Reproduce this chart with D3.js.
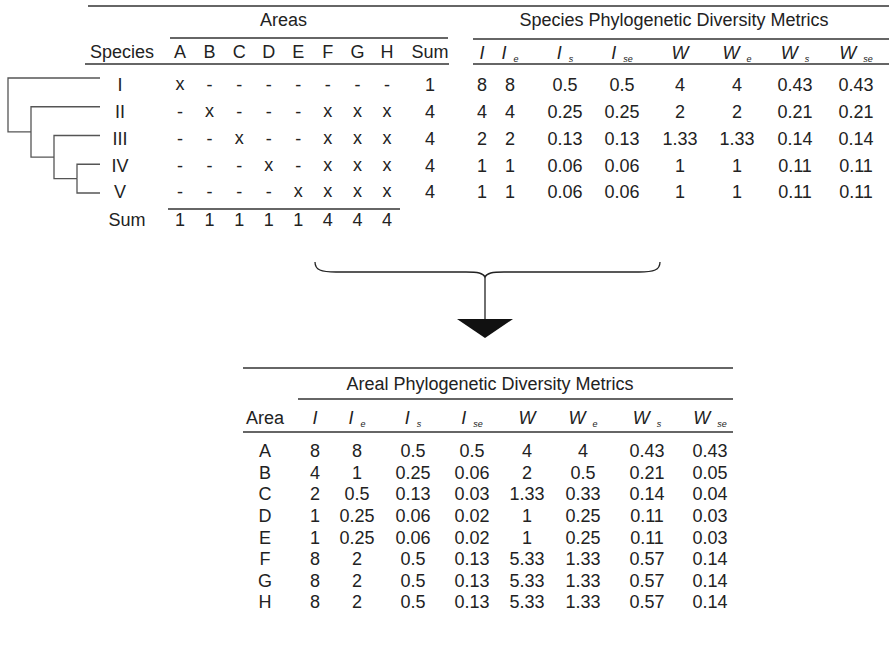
<!DOCTYPE html>
<html>
<head>
<meta charset="utf-8">
<title>Species and Areal Phylogenetic Diversity Metrics</title>
<script src="https://d3js.org/d3.v7.min.js"></script>
<style>
    body { margin: 0; background: #fff; }
    svg { display: block; font-family: "Liberation Sans", Arial, Helvetica, sans-serif; }
    text { fill: #222; font-size: 18px; }
    .rule { stroke: #333; stroke-width: 1.3px; }
    .branch { stroke: #555; stroke-width: 1.3px; fill: none; }
    .it { font-style: italic; }
    .sub { font-size: 9px; font-style: italic; }
</style>
</head>
<body>
<div id="chart"></div>
<script>
    const areas = ["A", "B", "C", "D", "E", "F", "G", "H"];
    const species = ["I", "II", "III", "IV", "V"];

    // 1 = species present in area
    const occurrence = [
        [1, 0, 0, 0, 0, 0, 0, 0],
        [0, 1, 0, 0, 0, 1, 1, 1],
        [0, 0, 1, 0, 0, 1, 1, 1],
        [0, 0, 0, 1, 0, 1, 1, 1],
        [0, 0, 0, 0, 1, 1, 1, 1]
    ];
    const speciesSum = [1, 4, 4, 4, 4];
    const areaSum = [1, 1, 1, 1, 1, 4, 4, 4];

    const metricBase = ["I", "I", "I", "I", "W", "W", "W", "W"];
    const metricSub = ["", "e", "s", "se", "", "e", "s", "se"];

    const speciesMetrics = [
        ["8", "8", "0.5", "0.5", "4", "4", "0.43", "0.43"],
        ["4", "4", "0.25", "0.25", "2", "2", "0.21", "0.21"],
        ["2", "2", "0.13", "0.13", "1.33", "1.33", "0.14", "0.14"],
        ["1", "1", "0.06", "0.06", "1", "1", "0.11", "0.11"],
        ["1", "1", "0.06", "0.06", "1", "1", "0.11", "0.11"]
    ];

    const arealMetrics = [
        ["8", "8", "0.5", "0.5", "4", "4", "0.43", "0.43"],
        ["4", "1", "0.25", "0.06", "2", "0.5", "0.21", "0.05"],
        ["2", "0.5", "0.13", "0.03", "1.33", "0.33", "0.14", "0.04"],
        ["1", "0.25", "0.06", "0.02", "1", "0.25", "0.11", "0.03"],
        ["1", "0.25", "0.06", "0.02", "1", "0.25", "0.11", "0.03"],
        ["8", "2", "0.5", "0.13", "5.33", "1.33", "0.57", "0.14"],
        ["8", "2", "0.5", "0.13", "5.33", "1.33", "0.57", "0.14"],
        ["8", "2", "0.5", "0.13", "5.33", "1.33", "0.57", "0.14"]
    ];

    // (I,(II,(III,(IV,V))))
    const tree = {
        children: [
            { name: "I" },
            { children: [
                { name: "II" },
                { children: [
                    { name: "III" },
                    { children: [{ name: "IV" }, { name: "V" }] }
                ] }
            ] }
        ]
    };

    const width = 889, height = 647;

    const svg = d3.select("#chart")
        .append("svg")
        .attr("width", width)
        .attr("height", height);

    function rule(x1, x2, y) {
        svg.append("line")
            .attr("class", "rule")
            .attr("x1", x1).attr("x2", x2)
            .attr("y1", y).attr("y2", y);
    }

    function label(x, y, t) {
        return svg.append("text")
            .attr("x", x).attr("y", y)
            .attr("dy", "0.35em")
            .attr("text-anchor", "middle")
            .text(t);
    }

    function metricHeader(x, y, i) {
        const t = svg.append("text")
            .attr("x", x).attr("y", y)
            .attr("dy", "0.35em")
            .attr("text-anchor", "middle");
        t.append("tspan").attr("class", "it").text(metricBase[i]);
        if (metricSub[i]) {
            t.append("tspan").attr("class", "sub")
                .attr("dx", 7).attr("dy", 3)
                .text(metricSub[i]);
        }
    }

    // ---------- top left: species x areas ----------
    const areaX = d3.scalePoint().domain(areas).range([180, 387]);
    const rowY = d3.scalePoint().domain(species).range([85, 192]);
    const sumX = 430;
    const speciesX = 120;

    rule(88, width, 6);
    label(d3.mean(areaX.range()), 20, "Areas");
    rule(170, 448, 38);

    label(122, 52, "Species");
    areas.forEach(a => label(areaX(a), 52, a));
    label(sumX, 52, "Sum");
    rule(85, 449, 64);

    species.forEach((s, i) => {
        label(speciesX, rowY(s), s);
        areas.forEach((a, j) => {
            label(areaX(a), rowY(s) - (occurrence[i][j] ? 1 : 0), occurrence[i][j] ? "x" : "-");
        });
        label(sumX, rowY(s), speciesSum[i]);
    });

    rule(168, 400, 209);
    label(127, 220, "Sum");
    areas.forEach((a, j) => label(areaX(a), 220, areaSum[j]));

    // ---------- tree ----------
    const root = d3.hierarchy(tree);
    const leafY = d3.scalePoint().domain(species).range([78, 193]);
    const depthX = d3.scaleLinear().domain([0, root.height]).range([8, 100]);
    root.eachAfter(n => {
        n.ty = n.children ? d3.mean(n.children, c => c.ty) : leafY(n.data.name);
        n.tx = depthX(root.height - n.height);
    });
    svg.append("g")
        .selectAll("path")
        .data(root.links())
        .enter().append("path")
        .attr("class", "branch")
        .attr("d", d => `M${d.source.tx},${d.source.ty}V${d.target.ty}H${d.target.tx}`);

    // ---------- top right: species metrics ----------
    const spMetricX = d3.scaleOrdinal()
        .domain(d3.range(8))
        .range([482, 510, 565, 622, 680, 737, 795, 856]);

    label(674, 20, "Species Phylogenetic Diversity Metrics");
    rule(473, width, 39);
    metricBase.forEach((b, i) => metricHeader(spMetricX(i), 53, i));
    rule(473, width, 64);

    speciesMetrics.forEach((row, i) => {
        row.forEach((v, j) => label(spMetricX(j), rowY(species[i]), v));
    });

    // ---------- brace and arrow ----------
    const bx = 485;
    svg.append("path")
        .attr("fill", "none")
        .attr("stroke", "#222")
        .attr("stroke-width", 1.3)
        .attr("d", `M315,262 C315,270 321,272 336,272 H466 C478,272 483,273 ${bx},277 `
            + `C487,273 492,272 504,272 H639 C654,272 660,270 660,262`);
    svg.append("line")
        .attr("stroke", "#222").attr("stroke-width", 1.3)
        .attr("x1", bx).attr("x2", bx)
        .attr("y1", 277).attr("y2", 320);
    svg.append("path")
        .attr("fill", "#111")
        .attr("d", `M${bx - 28},319 L${bx + 28},319 L${bx},338 Z`);

    // ---------- bottom: areal metrics ----------
    const arRowY = d3.scalePoint().domain(areas).range([451, 602]);
    const arMetricX = d3.scaleOrdinal()
        .domain(d3.range(8))
        .range([315, 357, 413, 472, 527, 583, 647, 710]);

    rule(243, 733, 368);
    label(490, 384, "Areal Phylogenetic Diversity Metrics");
    rule(298, 733, 399);
    label(265, 418, "Area");
    metricBase.forEach((b, i) => metricHeader(arMetricX(i), 418, i));
    rule(243, 733, 432);

    arealMetrics.forEach((row, i) => {
        label(265, arRowY(areas[i]), areas[i]);
        row.forEach((v, j) => label(arMetricX(j), arRowY(areas[i]), v));
    });
</script>
</body>
</html>
